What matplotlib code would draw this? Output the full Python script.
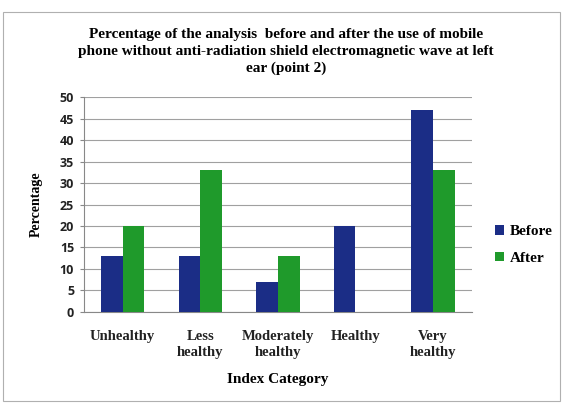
import matplotlib.pyplot as plt
import numpy as np
from matplotlib.patches import Rectangle

categories = ["Unhealthy", "Less\nhealthy", "Moderately\nhealthy", "Healthy", "Very\nhealthy"]
before = [13, 13, 7, 20, 47]
after = [20, 33, 13, 0, 33]
yticks = [0, 5, 10, 15, 20, 25, 30, 35, 40, 45, 50]

serif = "Liberation Serif"
sans = "Open Sans"

fig = plt.figure(figsize=(5.63, 4.03), dpi=100)
fig.patches.append(Rectangle((0.006, 0.005), 0.988, 0.965, transform=fig.transFigure,
                             fill=False, edgecolor="#b0b0b0", linewidth=0.8))
ax = fig.add_axes([0.149, 0.226, 0.689, 0.533])

x = np.arange(len(categories))
w = 0.28
ax.bar(x - w / 2, before, w, color="#1b2d86", label="Before", zorder=3)
ax.bar(x + w / 2, after, w, color="#1f9a2b", label="After", zorder=3)

ax.set_xlim(-0.5, len(categories) - 0.5)
ax.set_ylim(0, 50)
ax.set_yticks(yticks)
ax.set_yticklabels([str(t) for t in yticks], fontfamily=sans, fontweight="bold", fontsize=9, color="#222222")
ax.set_xticks(x)
ax.set_xticklabels(categories, fontfamily=serif, fontweight="bold", fontsize=10.5, color="#222222",
                   linespacing=1.35)
ax.tick_params(axis="y", length=3, color="#888888", pad=4)
ax.tick_params(axis="x", length=0, pad=13)
ax.grid(axis="y", color="#a0a0a0", linewidth=0.8, zorder=0)
for s in ["top", "right"]:
    ax.spines[s].set_visible(False)
ax.spines["left"].set_color("#888888")
ax.spines["bottom"].set_color("#888888")

ax.set_ylabel("Percentage", fontfamily=serif, fontweight="bold", fontsize=10, labelpad=12)
ax.set_xlabel("Index Category", fontfamily=serif, fontweight="bold", fontsize=11, labelpad=10)

fig.text(0.508, 0.93, "Percentage of the analysis  before and after the use of mobile\n"
         "phone without anti-radiation shield electromagnetic wave at left\near (point 2)",
         ha="center", va="top", fontfamily=serif, fontweight="bold", fontsize=11, linespacing=1.35)

ax.legend(loc="center left", bbox_to_anchor=(1.025, 0.31), frameon=False,
          prop={"family": serif, "weight": "bold", "size": 11},
          handlelength=0.55, handleheight=0.55, handletextpad=0.4, labelspacing=0.9)

fig.savefig("out.png", dpi=100)
